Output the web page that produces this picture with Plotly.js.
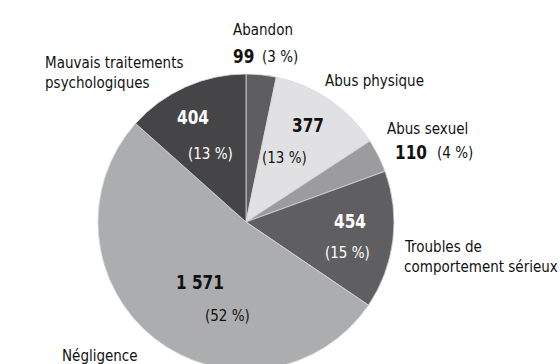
<!DOCTYPE html>
<html>
<head>
<meta charset="utf-8">
<script src="https://cdn.plot.ly/plotly-3.0.1.min.js"></script>
<style>
html,body{margin:0;padding:0;overflow:hidden;background:#fff;width:560px;height:364px;}
#chart{width:560px;height:372px;}
#chart text.annotation-text{transform-box:fill-box;transform-origin:center;transform:scaleY(1.1);}
</style>
</head>
<body>
<div id="chart"></div>
<script>
const categories = ["Abandon", "Abus physique", "Abus sexuel", "Troubles de comportement sérieux", "Négligence", "Mauvais traitements psychologiques"];
const values = [99, 377, 110, 454, 1571, 404];
const percents = ["3 %", "13 %", "4 %", "15 %", "52 %", "13 %"];
const valueLabels = ["99", "377", "110", "454", "1 571", "404"];
const colors = ["#5e5e60", "#e1e1e3", "#9c9c9e", "#5f5f61", "#acadaf", "#454547"];

const W = 560, H = 372;
const FONT = "'DejaVu Sans Condensed', 'Liberation Sans Narrow', Arial, sans-serif";
function P(x, y) { return {x: x / W, y: (H - y) / H}; }
function ann(x, y, text, opts) {
  const p = P(x, y);
  return Object.assign({
    x: p.x, y: p.y, xref: 'paper', yref: 'paper', text: text, showarrow: false,
    xanchor: 'center', yanchor: 'middle', borderpad: 0, borderwidth: 0,
    font: {family: FONT, size: 15, color: '#111'}
  }, opts || {});
}
const white = {family: FONT, size: 15, color: '#ffffff'};
const boldDark = {family: FONT, size: 17, color: '#111'};
const boldWhite = {family: FONT, size: 17, color: '#ffffff'};
const b = s => '<b>' + s + '</b>';

const annotations = [
  ann(233, 29, categories[0], {xanchor: 'left'}),
  ann(233, 56, b(valueLabels[0]), {xanchor: 'left', font: boldDark}),
  ann(262, 56, '(' + percents[0] + ')', {xanchor: 'left'}),
  ann(325, 80, categories[1], {xanchor: 'left'}),
  ann(308, 125, b(valueLabels[1]), {font: boldDark}),
  ann(284, 157, '(' + percents[1] + ')'),
  ann(387, 128, categories[2], {xanchor: 'left'}),
  ann(395, 152, b(valueLabels[2]), {xanchor: 'left', font: boldDark}),
  ann(437, 152, '(' + percents[2] + ')', {xanchor: 'left'}),
  ann(350, 221, b(valueLabels[3]), {font: boldWhite}),
  ann(347, 252, '(' + percents[3] + ')', {font: white}),
  ann(404, 246, 'Troubles de', {xanchor: 'left'}),
  ann(404, 266, 'comportement sérieux', {xanchor: 'left'}),
  ann(200, 282, b(valueLabels[4]), {font: boldDark}),
  ann(227, 315, '(' + percents[4] + ')'),
  ann(62, 355, categories[4], {xanchor: 'left'}),
  ann(193, 117, b(valueLabels[5]), {font: boldWhite}),
  ann(210, 153, '(' + percents[5] + ')', {font: white}),
  ann(45, 62, 'Mauvais traitements', {xanchor: 'left'}),
  ann(45, 82, 'psychologiques', {xanchor: 'left'})
];

const trace = {
  type: 'pie',
  labels: categories,
  values: values,
  sort: false,
  direction: 'clockwise',
  rotation: 0,
  textinfo: 'none',
  hoverinfo: 'label+value+percent',
  marker: {colors: colors, line: {color: '#d8d8d8', width: 0.8}},
  domain: {x: [98 / W, 394 / W], y: [2 / H, 298 / H]},
  showlegend: false
};

Plotly.newPlot('chart', [trace], {
  width: W, height: H,
  margin: {l: 0, r: 0, t: 0, b: 0},
  paper_bgcolor: '#ffffff',
  showlegend: false,
  annotations: annotations
}, {displayModeBar: false, staticPlot: true});
</script>
</body>
</html>
